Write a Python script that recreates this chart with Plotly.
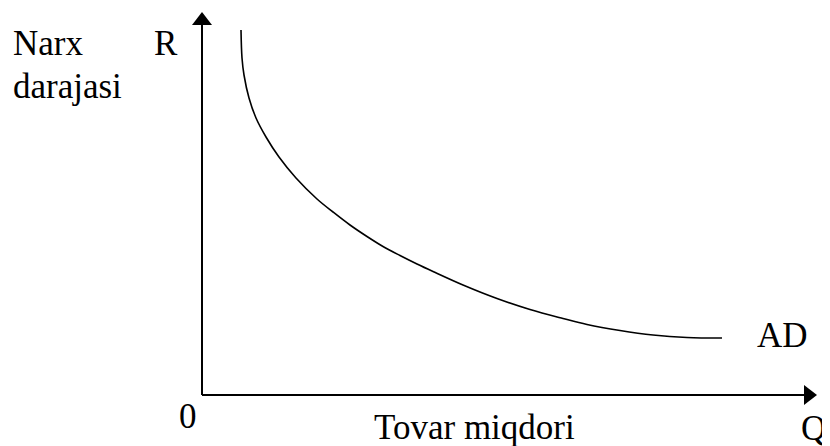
import plotly.graph_objects as go

# AD curve (quantity Q vs price level R)
q_values = [39, 40, 42, 47, 54, 64, 77, 94, 115, 131, 148, 165, 181, 198, 215, 231,
            261, 295, 328, 361, 385, 418, 451, 485, 520]
p_values = [365, 337, 320, 297, 277, 258, 238, 217, 196, 183, 170, 158.5, 148.5, 139.5, 131, 123.5,
            110, 96.5, 85.5, 76.5, 70.5, 64.5, 60, 57.5, 57]

curve_label = "AD"
y_label_lines = ["Narx", "darajasi"]
y_axis_letter = "R"
x_label = "Tovar miqdori"
x_axis_letter = "Q"
origin_label = "0"

# axis extents in data units
x_axis_end = 615
y_axis_end = 383

FONT = "Liberation Serif, Times New Roman, serif"
FS = 35

fig = go.Figure()
fig.add_trace(go.Scatter(
    x=q_values, y=p_values, mode="lines",
    line=dict(color="black", width=1.6, shape="spline", smoothing=1.0),
    hoverinfo="skip", showlegend=False,
))

head_len = 13
head_half = 10
shapes = [
    # y axis
    dict(type="line", xref="x", yref="y", x0=0, y0=0, x1=0, y1=y_axis_end - head_len,
         line=dict(color="black", width=2)),
    dict(type="path", xref="x", yref="y",
         path=f"M {-head_half} {y_axis_end - head_len} L {head_half} {y_axis_end - head_len} L 0 {y_axis_end} Z",
         fillcolor="black", line=dict(color="black", width=0)),
    # x axis
    dict(type="line", xref="x", yref="y", x0=0, y0=0, x1=x_axis_end - head_len, y1=0,
         line=dict(color="black", width=2)),
    dict(type="path", xref="x", yref="y",
         path=f"M {x_axis_end - head_len} {-head_half} L {x_axis_end - head_len} {head_half} L {x_axis_end} 0 Z",
         fillcolor="black", line=dict(color="black", width=0)),
]

def ann(text, x, y, xanchor="left"):
    return dict(text=text, x=x, y=y, xref="x", yref="y", showarrow=False,
                xanchor=xanchor, yanchor="middle",
                font=dict(family=FONT, size=FS, color="black"))

off = 0.33 * FS  # baseline -> middle offset
annotations = [
    ann(y_label_lines[0], -191, 340 + off),
    ann(y_axis_letter, -50, 340 + off),
    ann(y_label_lines[1], -191, 297 + off),
    ann(origin_label, -14, -33 + off, xanchor="center"),
    ann(x_label, 170, -44 + off),
    ann(x_axis_letter, 597, -45 + off),
    ann(curve_label, 553, 48 + off),
]

# page body has an 8px margin, so the figure is 8px smaller and ranges shifted
fig.update_layout(
    width=822, height=438,
    margin=dict(l=0, r=0, t=0, b=0),
    paper_bgcolor="white", plot_bgcolor="white",
    xaxis=dict(range=[-194, 628], visible=False, fixedrange=True),
    yaxis=dict(range=[-51, 387], visible=False, fixedrange=True),
    shapes=shapes, annotations=annotations,
    showlegend=False,
)

fig.write_html("out.html")
